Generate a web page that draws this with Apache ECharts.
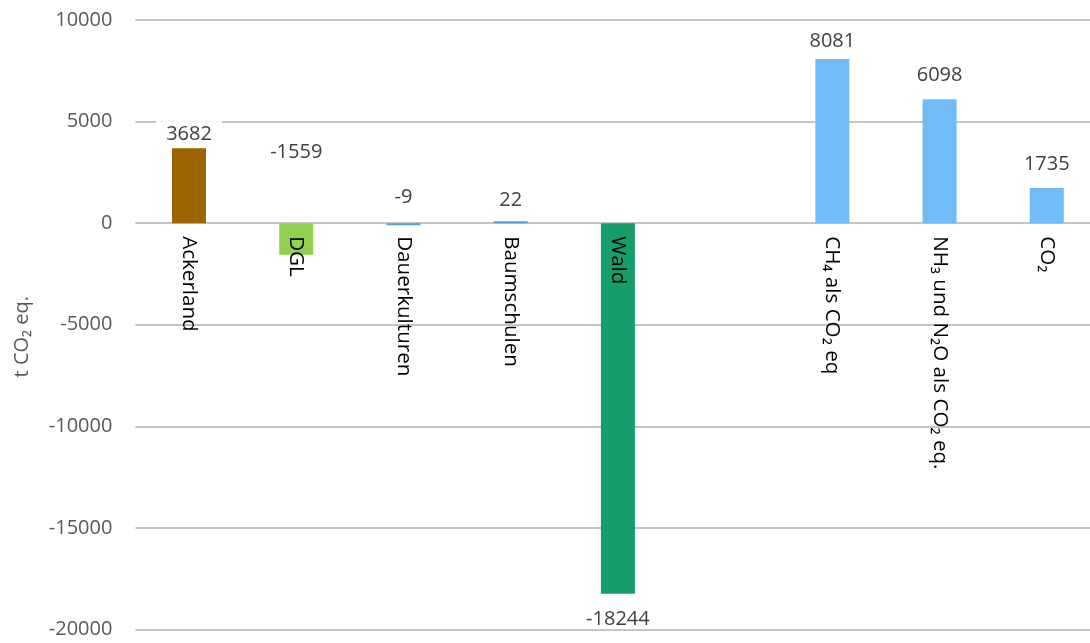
<!DOCTYPE html>
<html>
<head>
<meta charset="utf-8">
<script src="https://cdn.jsdelivr.net/npm/echarts@6/dist/echarts.min.js"></script>
<style>
  html, body { margin: 0; padding: 0; background: #fff; }
  #chart { width: 1090px; height: 643px; }
</style>
</head>
<body>
<div id="chart"></div>
<script>
// Emission balance by land use and gas (t CO2 eq.)
const categories = ['Ackerland', 'DGL', 'Dauerkulturen', 'Baumschulen', 'Wald', '',
  'CH\u2084 als CO\u2082 eq', 'NH\u2083 und N\u2082O als CO\u2082 eq.', 'CO\u2082'];
const values = [3682, -1559, -9, 22, -18244, null, 8081, 6098, 1735];
const yTicks = { min: -20000, max: 10000, step: 5000 };
const axisTitle = 't CO\u2082 eq.';

// Bar colours per category
const barColors = ['#9C6500', '#92D050', '#5B9BD5', '#5B9BD5', '#179C6B', '#71BCF7',
  '#71BCF7', '#71BCF7', '#71BCF7'];

// Where each value label sits relative to its bar
const labelPlacement = [
  { position: 'top', distance: 1, padding: [3, 10] },
  { position: 'top', distance: 61 },
  { position: 'top', distance: 16 },
  { position: 'top', distance: 11 },
  { position: 'bottom', distance: 15 },
  { position: 'top', distance: 10 },
  { position: 'top', distance: 8 },
  { position: 'top', distance: 14 },
  { position: 'top', distance: 14 }
];

const FONT = '"Open Sans", "DejaVu Sans", sans-serif';
const gridColor = '#B2B2B2';

const seriesData = values.map((v, i) => v === null ? null : ({
  value: v,
  itemStyle: { color: barColors[i] },
  label: {
    position: labelPlacement[i].position,
    distance: labelPlacement[i].distance,
    padding: labelPlacement[i].padding || [0, 10]
  }
}));

// Category names hang from the zero line, so they ride on zero-height bars
const categoryAnchors = categories.map(name => ({ value: 0, name: name }));

const chart = echarts.init(document.getElementById('chart'), null, { renderer: 'canvas' });
chart.setOption({
  backgroundColor: '#ffffff',
  animation: false,
  grid: {
    left: 135.4, top: 20, width: 965, height: 609.5,
    containLabel: false, outerBoundsMode: 'none'
  },
  xAxis: {
    type: 'category',
    data: categories,
    axisLine: { show: false },
    axisTick: { show: false },
    axisLabel: { show: false },
    splitLine: { show: false }
  },
  yAxis: {
    type: 'value',
    min: yTicks.min,
    max: yTicks.max,
    interval: yTicks.step,
    name: axisTitle,
    nameLocation: 'middle',
    nameRotate: 90,
    nameGap: 103,
    nameMoveOverlap: false,
    nameTextStyle: {
      color: '#595959', fontFamily: FONT, fontSize: 20,
      padding: [0, 24, 0, 0]
    },
    axisLine: { show: false },
    axisTick: { show: false },
    axisLabel: {
      color: '#595959', fontFamily: FONT, fontSize: 20, margin: 23,
      formatter: v => String(v)
    },
    splitLine: { lineStyle: { color: gridColor, width: 1.5 } }
  },
  series: [{
    type: 'bar',
    data: seriesData,
    barWidth: 34,
    barMinHeight: 2,
    z: 2,
    label: {
      show: true,
      color: '#404040',
      fontFamily: FONT,
      fontSize: 20,
      lineHeight: 20,
      backgroundColor: '#ffffff'
    }
  }, {
    type: 'bar',
    data: categoryAnchors,
    barWidth: 34,
    barGap: '-100%',
    z: 4,
    silent: true,
    itemStyle: { color: 'rgba(0,0,0,0)' },
    label: {
      show: true,
      formatter: p => p.name,
      position: 'bottom',
      distance: 13,
      rotate: -90,
      align: 'left',
      verticalAlign: 'middle',
      padding: [2, 0, 0, 0],
      color: '#000000',
      fontFamily: FONT,
      fontSize: 20.6
    }
  }]
});
</script>
</body>
</html>
